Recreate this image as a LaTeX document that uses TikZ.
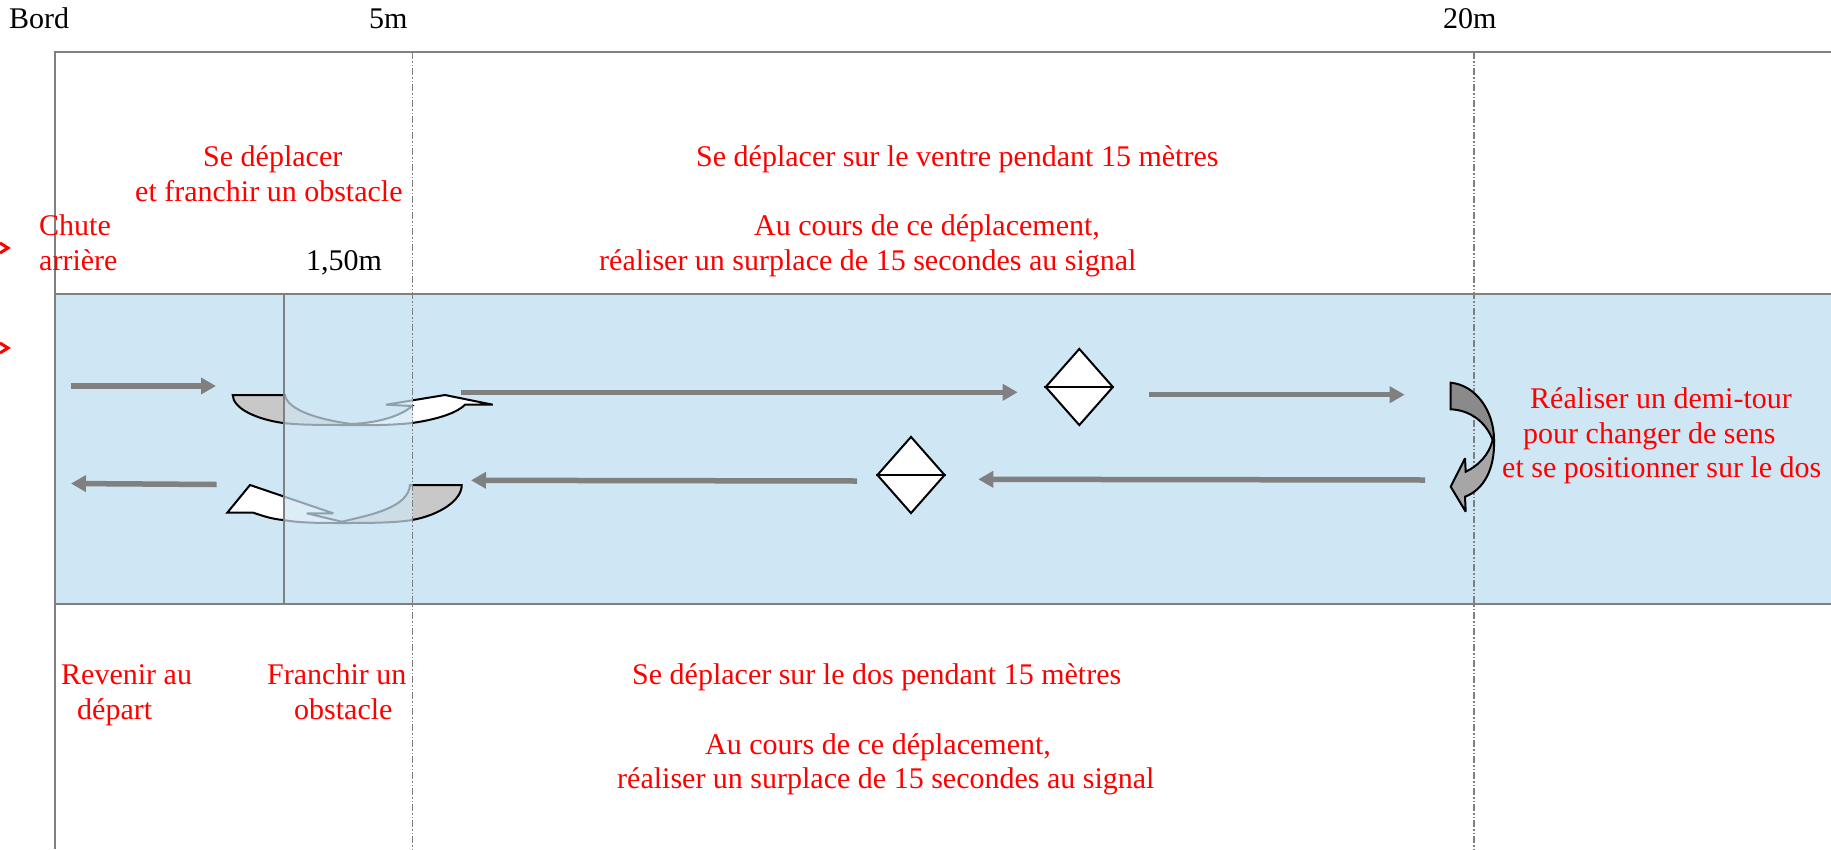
\documentclass[tikz,border=0pt]{standalone}
\usepackage{fontspec}
\setmainfont{Liberation Serif}
\usetikzlibrary{shapes.geometric,arrows.meta}
\definecolor{water}{HTML}{CFE6F4}
\definecolor{linegray}{HTML}{808080}
\definecolor{crescent}{HTML}{C8C8C8}
\definecolor{turndark}{HTML}{8A8A8A}
\definecolor{turnlight}{HTML}{A6A6A6}
\tikzset{
  x=1pt,y=-1pt,
  frameline/.style={draw=linegray,line width=1.6pt},
  markline/.style={draw=linegray,line width=1.4pt,dash pattern=on 7pt off 2pt on 1.5pt off 2pt on 1.5pt off 2pt},
  flow/.style={draw=linegray,line width=5.5pt,-{Triangle[length=15pt,width=16pt,fill=linegray]}},
  redtext/.style={inner sep=0pt,anchor=base west,text=red,font=\fontsize{30}{34}\selectfont},
  blacktext/.style={inner sep=0pt,anchor=base west,text=black,font=\fontsize{30}{34}\selectfont},
  marker/.style={diamond,draw=black,fill=white,line width=2pt,inner sep=0pt,minimum width=68pt,minimum height=77pt},
  swim/.style={draw=black,line width=2pt,miter limit=3}
}
\begin{document}
\begin{tikzpicture}
\useasboundingbox (0,0) rectangle (1831,849);
% water band
\fill[water] (55,294) rectangle (1831,604);

% swimmer arrows (lie under the veil of the obstacle)
\fill[white] (351.7,424) .. controls (375,423) and (400,417) .. (412,406) -- (386,404.7) -- (445,395) -- (492.7,404.7) -- (465,404.7) .. controls (458,412) and (440,419) .. (412,423) .. controls (395,425) and (370,425.5) .. (352,425) -- cycle;
\fill[crescent] (232.7,395) -- (285,395) .. controls (287,410) and (320,420) .. (351.7,424) -- (352,425) .. controls (320,425) and (300,425) .. (283,423) .. controls (255,419) and (233,408) .. (232.7,395) -- cycle;
\draw[swim] (232.7,395) -- (285,395) .. controls (287,410) and (320,420) .. (351.7,424) .. controls (375,423) and (400,417) .. (412,406) -- (386,404.7) -- (445,395) -- (492.7,404.7) -- (465,404.7) .. controls (458,412) and (440,419) .. (412,423) .. controls (395,425) and (370,425.5) .. (352,425) .. controls (320,425) and (300,425) .. (283,423) .. controls (255,419) and (233,408) .. (232.7,395) -- cycle;

\fill[white] (341.7,521.7) -- (306.7,513.3) -- (333.3,513.3) -- (250,485) -- (227.3,512.7) -- (253.3,512.7) .. controls (263,516) and (272,519) .. (283.3,520) .. controls (300,523) and (320,523) .. (342,523) -- cycle;
\fill[crescent] (461.7,485) -- (410,485) .. controls (408,508) and (370,515) .. (341.7,521.7) -- (342,523) .. controls (365,523) and (395,523) .. (412,520) .. controls (440,515) and (462,500) .. (461.7,485) -- cycle;
\draw[swim] (461.7,485) -- (410,485) .. controls (408,508) and (370,515) .. (341.7,521.7) -- (306.7,513.3) -- (333.3,513.3) -- (250,485) -- (227.3,512.7) -- (253.3,512.7) .. controls (263,516) and (272,519) .. (283.3,520) .. controls (300,523) and (320,523) .. (342,523) .. controls (365,523) and (395,523) .. (412,520) .. controls (440,515) and (462,500) .. (461.7,485) -- cycle;

% obstacle veil
\fill[water,opacity=0.7] (284,294) rectangle (412.5,604);
\draw[draw=linegray,line width=1.2pt] (284,294) -- (284,604);

% frame
\draw[frameline] (1831,52) -- (55,52) -- (55,849);
\draw[frameline] (55,294) -- (1831,294);
\draw[frameline] (55,604) -- (1831,604);

% distance marks
\draw[markline] (412.5,52) -- (412.5,849);
\draw[markline] (1474,52) -- (1474,849);

% stray red marks at the edge
\draw[red,line width=3pt] (0,243) -- (8,248) -- (0,253);
\draw[red,line width=3pt] (0,343) -- (8,348) -- (0,353);

% flow arrows
\coordinate (a1s) at (71,386);    \coordinate (a1e) at (216,386);
\coordinate (a2s) at (216.7,484.5); \coordinate (a2e) at (71,483.5);
\coordinate (a3s) at (461,392.3);  \coordinate (a3e) at (1017.7,392.3);
\coordinate (a4s) at (1149,394.7); \coordinate (a4e) at (1404.7,394.7);
\coordinate (a5s) at (857,481);    \coordinate (a5e) at (471,480.3);
\coordinate (a6s) at (1425,480);   \coordinate (a6e) at (978.3,479.3);
\draw[flow] (a1s) -- (a1e);
\draw[flow] (a2s) -- (a2e);
\draw[flow] (a3s) -- (a3e);
\draw[flow] (a4s) -- (a4e);
\draw[flow] (a5s) -- (a5e);
\draw[flow] (a6s) -- (a6e);

% surplace markers
\node[marker] (d1) at (1079.3,387) {};
\draw[line width=2pt] (d1.west) -- (d1.east);
\node[marker] (d2) at (911,475) {};
\draw[line width=2pt] (d2.west) -- (d2.east);

% half turn
\filldraw[swim,fill=turnlight] (1494,440) .. controls (1495,470) and (1483,490) .. (1465,496.7) -- (1465.7,511.7) -- (1450.7,486.7) -- (1465,458.3) -- (1465.7,471.7) .. controls (1478,466) and (1489,455) .. (1492.7,440) -- cycle;
\filldraw[swim,fill=turndark] (1450.7,382.7) .. controls (1475,385) and (1494,410) .. (1494,440) -- (1492.7,440) .. controls (1486,422) and (1470,410) .. (1450.7,409.3) -- cycle;

% texts
\node[blacktext] (t1) at (9,28) {Bord};
\node[blacktext] (t2) at (369,28) {5m};
\node[blacktext] (t3) at (1443,28) {20m};
\node[blacktext] (t4) at (306,270) {1,50m};
\node[redtext] (t5) at (203,166) {Se déplacer};
\node[redtext] (t6) at (135,201) {et franchir un obstacle};
\node[redtext] (t7) at (39,235) {Chute};
\node[redtext] (t8) at (39,270) {arrière};
\node[redtext] (t9) at (696,166) {Se déplacer sur le ventre pendant 15 mètres};
\node[redtext] (t10) at (754,235) {Au cours de ce déplacement,};
\node[redtext] (t11) at (599,270) {réaliser un surplace de 15 secondes au signal};
\node[redtext] (t12) at (1530,408) {Réaliser un demi-tour};
\node[redtext] (t13) at (1523,443) {pour changer de sens};
\node[redtext] (t14) at (1502,477) {et se positionner sur le dos};
\node[redtext] (t15) at (61,684) {Revenir au};
\node[redtext] (t16) at (77,719) {départ};
\node[redtext] (t17) at (267,684) {Franchir un};
\node[redtext] (t18) at (294,719) {obstacle};
\node[redtext] (t19) at (632,684) {Se déplacer sur le dos pendant 15 mètres};
\node[redtext] (t20) at (705,754) {Au cours de ce déplacement,};
\node[redtext] (t21) at (617,788) {réaliser un surplace de 15 secondes au signal};
\end{tikzpicture}
\end{document}
